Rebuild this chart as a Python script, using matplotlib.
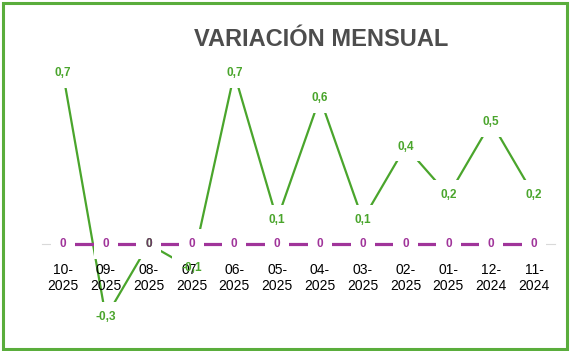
import matplotlib
matplotlib.use("Agg")
import matplotlib.pyplot as plt
from matplotlib.patches import Rectangle

# data
months = ["10-\n2025", "09-\n2025", "08-\n2025", "07-\n2025", "06-\n2025", "05-\n2025",
          "04-\n2025", "03-\n2025", "02-\n2025", "01-\n2025", "12-\n2024", "11-\n2024"]
variacion = [0.7, -0.3, 0.0, -0.1, 0.7, 0.1, 0.6, 0.1, 0.4, 0.2, 0.5, 0.2]
base = [0, 0, 0, 0, 0, 0, 0, 0, 0, 0, 0, 0]

GREEN = "#4aa52c"
PURPLE = "#a0349a"
W, H = 570, 351

plt.rcParams["font.family"] = ["Liberation Sans", "DejaVu Sans"]

fig = plt.figure(figsize=(W / 100, H / 100), dpi=100)
# plot area in pixels: x from 41.6 to 555.4, y (top-down) from 49 to 341.6
ax = fig.add_axes([41.6 / W, 1 - 341.6 / H, (555.4 - 41.6) / W, (341.6 - 49) / H])
x = list(range(len(months)))

ax.plot(x, variacion, color=GREEN, lw=1.6, zorder=2)
ax.plot(x, base, color=PURPLE, lw=2.3, zorder=3)

box = dict(boxstyle="square,pad=0.75", fc="white", ec="none")
kw = dict(fontsize=8.5, fontweight="bold", ha="center", va="center")
# white boxes hide the lines under each label (tick labels stay on top of them)
for i, v in enumerate(variacion):
    lbl = ("%.1f" % v).replace(".", ",") if v != 0 else "0"
    ax.text(i, v, lbl, color="none", bbox=box, zorder=4, **kw)
    ax.text(i, v, lbl, color=GREEN, zorder=6, **kw)
for i, v in enumerate(base):
    if variacion[i] == 0:
        ax.text(i, v, "0", color="#6b3a66", zorder=7, **kw)
    else:
        ax.text(i, v, "0", color=PURPLE, bbox=box, zorder=5, **kw)

ax.set_xlim(-0.5, len(months) - 0.5)
ax.set_ylim(-0.4, 0.8)
ax.set_xticks(x)
ax.set_xticklabels(months, color="#6a6a6a", fontsize=10, linespacing=1.0)
ax.tick_params(axis="x", length=0, pad=13.5)
ax.xaxis.set_zorder(4.5)
ax.set_yticks([])
for s in ["top", "right", "left"]:
    ax.spines[s].set_visible(False)
ax.spines["bottom"].set_position(("data", 0))
ax.spines["bottom"].set_color("#d9d9d9")
ax.spines["bottom"].set_zorder(1)
ax.patch.set_visible(False)

fig.text(321 / W, 1 - 46 / H, "VARIACIÓN MENSUAL", ha="center", va="baseline",
         fontsize=17, fontweight="bold", color="#4d4d4d")

fig.patches.append(Rectangle((3 / W, 2 / H), 564 / W, 346 / H, transform=fig.transFigure,
                             fill=False, ec="#5aad3c", lw=2.2))

fig.savefig("out.png", dpi=100)
